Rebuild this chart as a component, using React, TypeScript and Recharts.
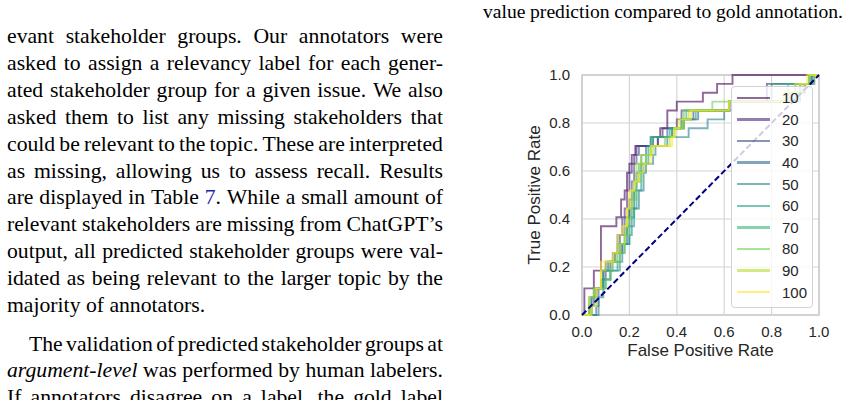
import React from 'react';
import { LineChart, Line, XAxis, YAxis, CartesianGrid, Legend, ReferenceArea } from 'recharts';

// ROC curves, one per threshold, as [false positive rate, true positive rate] corner points
const thresholds = ['10', '20', '30', '40', '50', '60', '70', '80', '90', '100'];
const viridis = ['#440154', '#482878', '#3e4989', '#31688e', '#26828e', '#1f9e89', '#35b779', '#6ece58', '#b5de2b', '#fde725'];
const axisTicks = [0, 0.2, 0.4, 0.6, 0.8, 1.0];

const roc10 = [[0, 0], [0.01, 0.111], [0.05, 0.185], [0.08, 0.37], [0.145, 0.407], [0.165, 0.481], [0.18, 0.519], [0.19, 0.593], [0.2, 0.63], [0.21, 0.667], [0.225, 0.704], [0.32, 0.741], [0.33, 0.778], [0.36, 0.852], [0.4, 0.889], [0.51, 0.926], [0.57, 0.963], [0.635, 1], [1, 1]];
const roc20 = [[0, 0], [0.04, 0.074], [0.06, 0.111], [0.09, 0.185], [0.12, 0.222], [0.14, 0.259], [0.15, 0.333], [0.17, 0.407], [0.18, 0.444], [0.19, 0.519], [0.2, 0.593], [0.21, 0.63], [0.22, 0.667], [0.23, 0.704], [0.3, 0.741], [0.34, 0.778], [0.4, 0.815], [0.42, 0.852], [0.62, 0.889], [0.78, 0.963], [0.96, 1], [1, 1]];
const roc30 = [[0, 0], [0.03, 0.037], [0.05, 0.111], [0.08, 0.148], [0.1, 0.222], [0.13, 0.259], [0.16, 0.333], [0.18, 0.407], [0.2, 0.481], [0.21, 0.556], [0.22, 0.63], [0.23, 0.667], [0.24, 0.704], [0.32, 0.741], [0.38, 0.778], [0.43, 0.815], [0.47, 0.852], [0.63, 0.889], [0.88, 0.926], [0.94, 0.963], [0.98, 1], [1, 1]];
const roc40 = [[0, 0], [0.06, 0.037], [0.07, 0.111], [0.09, 0.185], [0.11, 0.222], [0.14, 0.259], [0.17, 0.296], [0.19, 0.37], [0.2, 0.444], [0.22, 0.519], [0.23, 0.593], [0.25, 0.667], [0.27, 0.704], [0.29, 0.741], [0.36, 0.778], [0.42, 0.815], [0.49, 0.852], [0.62, 0.889], [0.9, 0.963], [0.97, 1], [1, 1]];
const roc50 = [[0, 0], [0.07, 0.074], [0.09, 0.148], [0.12, 0.185], [0.15, 0.222], [0.17, 0.296], [0.2, 0.333], [0.21, 0.407], [0.22, 0.444], [0.24, 0.519], [0.26, 0.593], [0.27, 0.63], [0.3, 0.667], [0.31, 0.704], [0.36, 0.741], [0.45, 0.778], [0.53, 0.815], [0.6, 0.852], [0.62, 0.889], [0.92, 0.963], [0.97, 1], [1, 1]];
const roc60 = [[0, 0], [0.04, 0.074], [0.06, 0.111], [0.1, 0.148], [0.12, 0.185], [0.16, 0.259], [0.18, 0.296], [0.2, 0.37], [0.22, 0.444], [0.23, 0.519], [0.25, 0.593], [0.26, 0.63], [0.28, 0.704], [0.29, 0.741], [0.37, 0.778], [0.43, 0.815], [0.48, 0.852], [0.62, 0.889], [0.8, 0.963], [0.96, 1], [1, 1]];
const roc70 = [[0, 0], [0.03, 0.074], [0.05, 0.111], [0.09, 0.185], [0.13, 0.222], [0.15, 0.296], [0.18, 0.333], [0.19, 0.407], [0.21, 0.481], [0.22, 0.556], [0.24, 0.63], [0.27, 0.667], [0.29, 0.704], [0.3, 0.741], [0.38, 0.778], [0.42, 0.815], [0.44, 0.852], [0.62, 0.889], [0.87, 0.963], [0.96, 1], [1, 1]];
const roc80 = [[0, 0], [0.04, 0.037], [0.06, 0.111], [0.1, 0.148], [0.12, 0.222], [0.16, 0.259], [0.18, 0.333], [0.2, 0.407], [0.21, 0.481], [0.23, 0.556], [0.25, 0.63], [0.27, 0.667], [0.29, 0.704], [0.35, 0.741], [0.39, 0.778], [0.42, 0.815], [0.43, 0.852], [0.55, 0.889], [0.86, 0.926], [0.93, 0.963], [0.98, 1], [1, 1]];
const roc90 = [[0, 0], [0.03, 0.074], [0.05, 0.111], [0.08, 0.185], [0.1, 0.222], [0.14, 0.259], [0.16, 0.296], [0.18, 0.37], [0.19, 0.444], [0.21, 0.519], [0.22, 0.556], [0.23, 0.63], [0.25, 0.667], [0.3, 0.704], [0.37, 0.741], [0.39, 0.778], [0.43, 0.815], [0.45, 0.852], [0.62, 0.889], [0.88, 0.926], [0.92, 0.963], [0.96, 1], [1, 1]];
const roc100 = [[0, 0], [0.04, 0.037], [0.06, 0.111], [0.08, 0.222], [0.13, 0.259], [0.15, 0.333], [0.17, 0.37], [0.19, 0.444], [0.2, 0.519], [0.22, 0.556], [0.24, 0.593], [0.26, 0.63], [0.29, 0.704], [0.38, 0.741], [0.39, 0.778], [0.41, 0.815], [0.46, 0.852], [0.62, 0.889], [0.85, 0.926], [0.9, 0.963], [0.95, 1], [1, 1]];
const chanceLine = [[0, 0], [1, 1]];

// surrounding paper text
const captionTail = 'value prediction compared to gold annotation.';
const paragraphOne = [
  'evant stakeholder groups. Our annotators were',
  'asked to assign a relevancy label for each gener-',
  'ated stakeholder group for a given issue. We also',
  'asked them to list any missing stakeholders that',
  'could be relevant to the topic. These are interpreted',
  'as missing, allowing us to assess recall. Results',
  'are displayed in Table 7. While a small amount of',
  'relevant stakeholders are missing from ChatGPT\u2019s',
  'output, all predicted stakeholder groups were val-',
  'idated as being relevant to the larger topic by the',
];
const paragraphOneLast = 'majority of annotators.';
const paragraphTwo = [
  'The validation of predicted stakeholder groups at',
  'argument-level was performed by human labelers.',
  'If annotators disagree on a label, the gold label',
];

const rocCurves = [roc10, roc20, roc30, roc40, roc50, roc60, roc70, roc80, roc90, roc100];
const series = thresholds.map((name, i) => ({
  name,
  color: viridis[i],
  data: rocCurves[i].map(([fpr, tpr]) => ({ fpr, tpr })),
}));
const chanceData = chanceLine.map(([fpr, tpr]) => ({ fpr, tpr }));

const SERIF = '"Liberation Serif", "Times New Roman", serif';
const SANS = '"Liberation Sans", Arial, sans-serif';
const BODY = 21.7;

function Word({ w }: { w: string }) {
  if (w === '7.') return <span><span style={{ color: '#1f1fa8' }}>7</span>.</span>;
  if (w === 'argument-level') return <span style={{ fontStyle: 'italic' }}>{w}</span>;
  return <span>{w}</span>;
}

function JustifiedLine({ text, top, left = 7, width = 436, size = BODY }: { text: string; top: number; left?: number; width?: number; size?: number }) {
  return (
    <div style={{ position: 'absolute', left, top, width, display: 'flex', justifyContent: 'space-between', whiteSpace: 'nowrap', fontSize: size, lineHeight: 1 }}>
      {text.split(' ').map((w, i) => <Word key={i} w={w} />)}
    </div>
  );
}

function RocLegend({ payload }: any) {
  const items = (payload || [])
    .filter((p: any) => p.type !== 'none' && thresholds.includes(String(p.value)))
    .sort((a: any, b: any) => Number(a.value) - Number(b.value));
  return (
    <div style={{ background: 'rgba(255,255,255,0.8)', border: '1px solid #d2d2d2', borderRadius: 4, padding: '0 0 4px 0', width: 82, boxSizing: 'border-box' }}>
      {items.map((p: any) => (
        <div key={p.value} style={{ display: 'flex', alignItems: 'center', height: 21.6 }}>
          <span style={{ display: 'inline-block', marginLeft: 5, width: 33, height: 2.4, background: p.color, opacity: 0.6 }} />
          <span style={{ marginLeft: 12, fontSize: 15, color: '#262626', lineHeight: 1, fontFamily: SANS }}>{p.value}</span>
        </div>
      ))}
    </div>
  );
}

function XTitle({ viewBox }: any) {
  return (
    <text x={viewBox.x + viewBox.width / 2} y={viewBox.y + 41} textAnchor="middle" fill="#262626" fontSize={17} fontFamily={SANS}>
      False Positive Rate
    </text>
  );
}

function YTitle({ viewBox }: any) {
  const cx = viewBox.x + 8;
  const cy = viewBox.y + viewBox.height / 2;
  return (
    <text x={cx} y={cy} transform={`rotate(-90 ${cx} ${cy})`} textAnchor="middle" fill="#262626" fontSize={17} fontFamily={SANS}>
      True Positive Rate
    </text>
  );
}

const tickStyle = { fill: '#262626', fontSize: 15, fontFamily: SANS };

export default function App() {
  const lineTop = (baseline: number) => baseline - 0.8375 * BODY;
  return (
    <div style={{ position: 'absolute', left: 0, top: 0, width: 849, height: 400, overflow: 'hidden', background: '#fff', fontFamily: SERIF, color: '#000' }}>
      <JustifiedLine text={captionTail} top={2} left={483} width={360} size={19.6} />

      {paragraphOne.map((t, i) => (
        <JustifiedLine key={t} text={t} top={lineTop(44.5 + i * 26.85)} />
      ))}
      <div style={{ position: 'absolute', left: 7, top: lineTop(44.5 + 10 * 26.85), fontSize: BODY, lineHeight: 1, whiteSpace: 'nowrap' }}>{paragraphOneLast}</div>
      {paragraphTwo.map((t, i) => (
        <JustifiedLine key={t} text={t} top={lineTop(351.7 + i * 26.7)} left={i === 0 ? 29 : 7} width={i === 0 ? 414 : 436} />
      ))}

      <div style={{ position: 'absolute', left: 500, top: 60, fontFamily: SANS }}>
        <LineChart width={340} height={320} margin={{ top: 15, right: 21, bottom: 15, left: 32 }}>
          <CartesianGrid stroke="#d6d6d6" strokeWidth={1.2} />
          <ReferenceArea x1={0} x2={1} y1={0} y2={1} fill="none" stroke="#cccccc" strokeWidth={1.5} />
          <XAxis
            dataKey="fpr"
            type="number"
            domain={[0, 1]}
            ticks={axisTicks}
            tickFormatter={(v) => v.toFixed(1)}
            tick={tickStyle}
            tickSize={0}
            tickMargin={11}
            axisLine={false}
            height={50}
            allowDuplicatedCategory={false}
            label={{ content: <XTitle /> } as any}
          />
          <YAxis
            type="number"
            domain={[0, 1]}
            ticks={axisTicks}
            tickFormatter={(v) => v.toFixed(1)}
            tick={tickStyle}
            tickSize={0}
            tickMargin={12}
            axisLine={false}
            width={50}
            label={{ content: <YTitle /> } as any}
          />
          {series.map((s) => (
            <Line
              key={s.name}
              data={s.data}
              dataKey="tpr"
              name={s.name}
              type="stepAfter"
              stroke={s.color}
              strokeOpacity={0.6}
              strokeWidth={1.9}
              dot={false}
              activeDot={false}
              isAnimationActive={false}
            />
          ))}
          <Line
            data={chanceData}
            dataKey="tpr"
            name="chance"
            type="linear"
            stroke="#000080"
            strokeWidth={2}
            strokeDasharray="6 3"
            dot={false}
            activeDot={false}
            legendType="none"
            isAnimationActive={false}
          />
          <Legend
            layout="vertical"
            align="center"
            verticalAlign="middle"
            content={<RocLegend />}
            wrapperStyle={{ left: 231, top: 26, width: 82 }}
          />
        </LineChart>
      </div>
    </div>
  );
}
